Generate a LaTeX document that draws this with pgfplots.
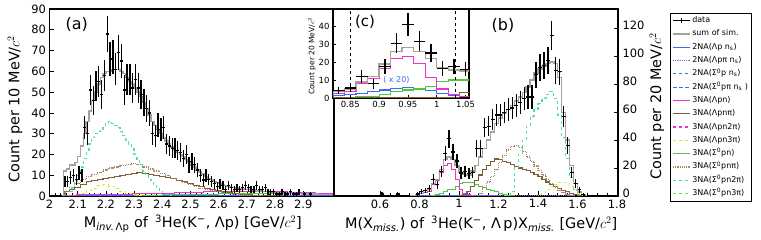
\documentclass[border=0pt]{standalone}
\usepackage{fontspec}
\setmainfont{DejaVu Sans}
\usepackage{pgfplots}
\pgfplotsset{compat=1.18}

\definecolor{sumgray}{HTML}{A8A39A}
\definecolor{nablue}{HTML}{3D6BFF}
\definecolor{napurple}{HTML}{8A66F0}
\definecolor{mag}{HTML}{F531C8}
\definecolor{brn}{HTML}{7E5E34}
\definecolor{tanb}{HTML}{A88A66}
\definecolor{ylw}{HTML}{C8EE30}
\definecolor{grn}{HTML}{50C83C}
\definecolor{aqua}{HTML}{48E2B0}
\definecolor{lgrn}{HTML}{7AE53A}

\pgfplotsset{
  panel/.style={
    scale only axis,
    axis line style={line width=1.4pt},
    tick style={black, line width=0.6pt},
    major tick length=4.5bp, minor tick length=2.5bp,
    tick align=inside,
    ticklabel style={font=\fontsize{11.5}{12}\selectfont},
    /pgf/number format/assume math mode=true,
    label style={font=\fontsize{14.5}{16}\selectfont},
    ymin=0,
  },
  hist/.style={const plot mark mid, no marks, forget plot, line width=1pt},
  dat/.style={only marks, mark=*, mark size=0.7pt, black, forget plot,
    /pgfplots/error bars/y dir=both, /pgfplots/error bars/y explicit,
    /pgfplots/error bars/x dir=both, /pgfplots/error bars/x fixed=#1,
    /pgfplots/error bars/error bar style={line width=1.3pt, black},
    /pgfplots/error bars/error mark=none},
}

\begin{document}
\begin{tikzpicture}
\useasboundingbox (0,0) rectangle (761bp,240bp);

%================ (a) ================
\begin{axis}[panel, at={(49.5bp,44bp)}, anchor=south west,
  width=284.5bp, height=187bp,
  xmin=2, xmax=3.009, ymax=90,
  xtick={2,2.1,2.2,2.3,2.4,2.5,2.6,2.7,2.8,2.9},
  xticklabels={2,2.1,2.2,2.3,2.4,2.5,2.6,2.7,2.8,2.9},
  minor x tick num=4,
  ytick={0,10,20,30,40,50,60,70,80,90},
  xtick pos=left, ytick pos=left,
  xlabel={M\textsubscript{\itshape inv.\,\upshape Λp} of \,\textsuperscript{3}He(K\textsuperscript{−}, Λp) [GeV/$c^2$]},
  ylabel={Count per 10 MeV/$c^2$},
  xlabel style={at={(axis description cs:0.504,-0.15)}, anchor=center},
  ylabel style={at={(axis description cs:-0.121,0.465)}, anchor=center},
]
% blue 2NA near zero
\addplot[hist, nablue, line width=0.8pt] coordinates {(2.05,0) (2.10,0.2) (2.30,0.3) (2.50,0.3) (2.70,0.2) (2.90,0.1) (3.01,0.1)};
% green Sigma0 pn
\addplot[hist, grn] coordinates {(2.25,0) (2.35,0.3) (2.45,0.6) (2.55,0.9) (2.65,1.2) (2.75,1.4) (2.85,1.2) (2.95,1.0) (3.01,0.9)};
% magenta Lambda pn
\addplot[hist, mag] coordinates {(2.05,0) (2.07,0.3) (2.12,0.5) (2.17,0.7) (2.22,0.8) (2.27,0.9) (2.32,1.0) (2.37,1.2) (2.42,1.4) (2.47,1.6) (2.52,1.8) (2.57,2.0) (2.62,2.2) (2.67,2.3) (2.72,2.3) (2.77,2.2) (2.82,2.0) (2.87,1.8) (2.92,1.6) (2.97,1.4) (3.01,1.3)};
% yellow-green Lambda pn 3pi
\addplot[hist, ylw, dashed] coordinates {(2.10,0) (2.12,1) (2.14,2.5) (2.16,3.8) (2.18,5) (2.20,5.5) (2.22,4.8) (2.24,3.5) (2.26,2.2) (2.28,1.3) (2.30,0.7) (2.32,0.3) (2.34,0)};
% brown solid Lambda pn pi
\addplot[hist, brn, line width=1.2pt] coordinates {(2.05,0) (2.06,2) (2.08,3) (2.10,4) (2.12,5.5) (2.14,7) (2.16,7.5) (2.18,8) (2.20,8.5) (2.22,9) (2.24,9.5) (2.26,10) (2.28,10.5) (2.30,11) (2.32,11.2) (2.34,11) (2.36,10.5) (2.38,10) (2.40,9.5) (2.42,9) (2.44,8.3) (2.46,7.5) (2.48,6.8) (2.50,6) (2.52,5.2) (2.54,4.5) (2.56,3.7) (2.58,3) (2.60,2.4) (2.62,1.9) (2.64,1.5) (2.66,1.1) (2.68,0.8) (2.70,0.5) (2.74,0.3) (2.78,0.1) (2.82,0)};
% tan dotted Sigma0 pn pi
\addplot[hist, tanb, densely dotted, line width=1.2pt] coordinates {(2.05,0) (2.06,2) (2.08,4) (2.10,6) (2.12,8) (2.14,9.5) (2.16,10.5) (2.18,11.5) (2.20,12.5) (2.22,13.5) (2.24,14) (2.26,14.5) (2.28,15) (2.30,15.5) (2.32,15) (2.34,14) (2.36,13) (2.38,12) (2.40,11) (2.42,9.8) (2.44,8.5) (2.46,7.5) (2.48,6.5) (2.50,5.5) (2.52,4.5) (2.54,3.8) (2.56,3) (2.58,2.5) (2.60,2) (2.62,1.6) (2.64,1.2) (2.66,0.8) (2.68,0.5) (2.72,0.2) (2.76,0)};
% aqua dashed Sigma0 pn 2pi
\addplot[hist, aqua, dashed, line width=1.2pt] coordinates {(2.065,0) (2.075,2) (2.085,4) (2.095,7) (2.105,10) (2.115,14) (2.125,18) (2.135,22) (2.145,25) (2.155,28) (2.165,30) (2.175,31) (2.185,32) (2.195,33) (2.205,35) (2.215,36) (2.225,35) (2.235,34) (2.245,33) (2.255,31) (2.265,29) (2.275,27) (2.285,25) (2.295,23) (2.305,20) (2.315,17) (2.325,15) (2.335,12) (2.345,10) (2.355,8) (2.365,6.5) (2.375,5) (2.385,3.5) (2.395,2.5) (2.405,1.5) (2.415,0.8) (2.425,0.3) (2.435,0)};
% sum of sim.
\addplot[hist, sumgray, line width=1.4pt] coordinates {(2.045,0) (2.055,12) (2.065,13) (2.075,15) (2.085,15) (2.095,16) (2.105,19) (2.115,24) (2.125,30) (2.135,36) (2.145,41) (2.155,46) (2.165,50) (2.175,54) (2.185,57) (2.195,59) (2.205,60) (2.215,60) (2.225,61) (2.235,61) (2.245,61) (2.255,60) (2.265,59) (2.275,57) (2.285,55) (2.295,54) (2.305,52) (2.315,50) (2.325,48) (2.335,45) (2.345,42) (2.355,39) (2.365,36) (2.375,34) (2.385,32) (2.395,30) (2.405,28) (2.415,26.5) (2.425,25) (2.435,23.5) (2.445,22) (2.455,21) (2.465,20) (2.475,19) (2.485,17.5) (2.495,16) (2.505,15) (2.515,14) (2.525,12.5) (2.535,11.5) (2.545,10.5) (2.555,9.5) (2.565,8.5) (2.575,8) (2.585,7) (2.595,6.5) (2.605,6) (2.615,5.5) (2.625,5) (2.635,4.5) (2.645,4.2) (2.655,4) (2.665,3.8) (2.675,3.5) (2.685,3.3) (2.695,3.1) (2.705,3) (2.725,2.8) (2.745,2.5) (2.765,2.3) (2.785,2) (2.805,1.8) (2.825,1.6) (2.845,1.5) (2.865,1.3) (2.885,1.2) (2.905,1) (2.925,1) (2.945,0.9) (2.965,0.8) (2.985,0.8) (3.005,0.7)};
% data
\addplot[dat=0.005] table[x=x, y=y, y error=e] {
x y e
2.055 7 2.6
2.065 7 2.6
2.075 9 3
2.085 10 3.2
2.095 8 2.8
2.105 11 3.3
2.115 10 3.2
2.125 33 5.7
2.135 30 5.5
2.145 51 7.1
2.155 46 6.8
2.165 53 7.3
2.175 55 7.4
2.185 49 7
2.195 58 7.6
2.205 78 8.8
2.215 66 8.1
2.225 67 8.2
2.235 61 7.8
2.245 69 8.3
2.255 65 8.1
2.265 51 7.1
2.275 56 7.5
2.285 56 7.5
2.295 52 7.2
2.305 56 7.5
2.315 52 7.2
2.325 49 7
2.335 45 6.7
2.345 42 6.5
2.355 40 6.3
2.365 30 5.5
2.375 29 5.4
2.385 34 5.8
2.395 32 5.7
2.405 33 5.7
2.415 25 5
2.425 24 4.9
2.435 23 4.8
2.445 23 4.8
2.455 22 4.7
2.465 21 4.6
2.475 18 4.2
2.485 20 4.5
2.495 15 3.9
2.505 16.5 4.1
2.515 15 3.9
2.525 12.5 3.5
2.535 10 3.2
2.545 7.7 2.8
2.555 10 3.2
2.565 8 2.8
2.575 7 2.6
2.585 6 2.4
2.595 4.5 2.1
2.605 6 2.4
2.615 5 2.2
2.625 3 1.7
2.635 5 2.2
2.645 4 2
2.655 3 1.7
2.665 4 2
2.675 3 1.7
2.685 4 2
2.695 5 2.2
2.705 4 2
2.715 3 1.7
2.725 3 1.7
2.735 5 2.2
2.745 3 1.7
2.755 3 1.7
2.765 4 2
2.775 2 1.4
2.785 2 1.4
2.795 2 1.4
2.805 1 1
2.815 1 1
2.825 2 1.4
2.835 1 1
2.845 1 1
2.855 2 1.4
2.865 1 1
2.875 1 1
2.885 2 1.4
2.905 1 1
2.925 1 1
};
\end{axis}

%================ (b) ================
\begin{axis}[panel, at={(334bp,44bp)}, anchor=south west,
  width=284bp, height=187bp,
  xmin=0.367, xmax=1.805, ymax=134,
  xtick={0.6,0.8,1,1.2,1.4,1.6,1.8},
  xticklabels={0.6,0.8,1,1.2,1.4,1.6,1.8},
  minor x tick num=3,
  ytick={0,20,40,60,80,100,120},
  xtick pos=left, ytick pos=right, yticklabel pos=right,
  yticklabel style={yshift=3bp, xshift=1bp},
  xlabel={M(X\textsubscript{\itshape miss.}) of \,\textsuperscript{3}He(K\textsuperscript{−}, Λ\,p)X\textsubscript{\itshape miss.} [GeV/$c^2$]},
  ylabel={Count per 20 MeV/$c^2$},
  xlabel style={at={(axis description cs:0.518,-0.15)}, anchor=center},
  ylabel style={at={(axis description cs:1.137,0.48)}, anchor=center},
  legend style={at={(1.183,0.979)}, anchor=north west, draw=black,
    font=\fontsize{8}{9}\selectfont, row sep=2.3bp, inner sep=2bp,
    nodes={inner sep=1.5bp, text height=6bp, text depth=2bp}},
  legend cell align=left,
]
\addplot[hist, nablue, line width=0.8pt] coordinates {(0.75,0) (0.79,0.2) (0.85,0.3) (0.95,0.3) (1.05,0.2) (1.15,0.1) (1.25,0)};
\addplot[hist, napurple, densely dotted, line width=1pt] coordinates {(1.1,0) (1.15,0.3) (1.25,0.5) (1.35,0.6) (1.45,0.6) (1.55,0.4) (1.62,0)};
\addplot[hist, grn] coordinates {(0.83,0) (0.85,0) (0.87,0.5) (0.89,1) (0.91,2) (0.93,3.5) (0.95,4.5) (0.97,5) (0.99,6.5) (1.01,9) (1.03,10) (1.05,10) (1.07,9.5) (1.09,8) (1.11,7) (1.13,6) (1.15,5) (1.17,4) (1.19,3) (1.21,2) (1.23,1.3) (1.25,0.7) (1.27,0.3) (1.29,0)};
\addplot[hist, mag] coordinates {(0.75,0) (0.77,0.5) (0.79,1) (0.81,1.5) (0.83,2.5) (0.85,3.5) (0.87,8) (0.89,11) (0.91,16.5) (0.93,22) (0.95,23) (0.97,19) (0.99,11.5) (1.01,5) (1.03,2) (1.05,1) (1.07,0.5) (1.09,0)};
\addplot[hist, ylw, dashed] coordinates {(1.39,0) (1.41,1) (1.43,2.5) (1.45,4.5) (1.47,6.5) (1.49,8.5) (1.51,10) (1.53,10) (1.55,9) (1.57,7) (1.59,4.5) (1.61,2) (1.63,0.5) (1.65,0)};
\addplot[hist, brn, line width=1.2pt] coordinates {(1.01,0) (1.03,1) (1.05,3) (1.07,7) (1.09,11) (1.11,15) (1.13,19) (1.15,22) (1.17,25) (1.19,26.5) (1.21,26) (1.23,25) (1.25,24) (1.27,22.5) (1.29,21) (1.31,20) (1.33,19) (1.35,18.5) (1.37,17) (1.39,15.5) (1.41,14) (1.43,12) (1.45,10) (1.47,8.5) (1.49,7) (1.51,5.5) (1.53,4) (1.55,3) (1.57,2) (1.59,1) (1.61,0.5) (1.63,0)};
\addplot[hist, tanb, densely dotted, line width=1.2pt] coordinates {(1.09,0) (1.11,2) (1.13,6) (1.15,10) (1.17,14) (1.19,19) (1.21,24) (1.23,29) (1.25,33) (1.27,35.5) (1.29,36) (1.31,35) (1.33,32) (1.35,28) (1.37,25) (1.39,21.5) (1.41,18) (1.43,15) (1.45,12) (1.47,9) (1.49,6.5) (1.51,4) (1.53,2.5) (1.55,1.2) (1.57,0.5) (1.59,0)};
\addplot[hist, aqua, dashed, line width=1.2pt] coordinates {(1.23,0) (1.25,0) (1.27,3) (1.29,20) (1.31,30) (1.33,40) (1.35,50) (1.37,57) (1.39,62) (1.41,66) (1.43,70) (1.45,73) (1.47,75) (1.49,70) (1.51,58) (1.53,42) (1.55,27) (1.57,13) (1.59,4) (1.61,1) (1.63,0)};
\addplot[hist, sumgray, line width=1.4pt] coordinates {(0.75,0) (0.77,0.5) (0.79,1) (0.81,2) (0.83,4) (0.85,5) (0.87,9) (0.89,12) (0.91,19) (0.93,26) (0.95,28) (0.97,26) (0.99,22) (1.01,17) (1.03,15.5) (1.05,15) (1.07,18) (1.09,22) (1.11,28) (1.13,34) (1.15,40) (1.17,46) (1.19,52) (1.21,56) (1.23,59) (1.25,62) (1.27,65) (1.29,68) (1.31,71) (1.33,74) (1.35,78) (1.37,83) (1.39,88) (1.41,91) (1.43,93) (1.45,95) (1.47,96) (1.49,95) (1.51,85) (1.53,60) (1.55,40) (1.57,22) (1.59,9) (1.61,3) (1.63,1) (1.65,0)};
\addplot[dat=0.01] table[x=x, y=y, y error=e] {
x y e
0.61 1.5 1.2
0.69 1.5 1.2
0.79 1.5 1.2
0.81 3 1.7
0.83 4 2
0.85 5.5 2.3
0.87 12 3.5
0.89 8 2.8
0.91 17.5 4.2
0.93 30.5 5.5
0.95 41 6.4
0.97 31.5 5.6
0.99 25 5
1.01 16.5 4.1
1.03 17.5 4.2
1.05 16 4
1.07 17 4.1
1.09 34 5.8
1.11 34 5.8
1.13 49 7
1.15 50 7.1
1.17 55 7.4
1.19 58 7.6
1.21 58 7.6
1.23 60 7.7
1.25 62 7.9
1.27 63 7.9
1.29 65 8.1
1.31 67 8.2
1.33 70 8.4
1.35 71 8.4
1.37 71 8.4
1.39 87 9.3
1.41 92 9.6
1.43 93.5 9.7
1.45 97 9.8
1.47 115 10.7
1.49 90 9.5
1.51 89 9.4
1.53 57 7.5
1.55 36 6
1.57 17 4.1
1.59 9 3
1.61 4.5 2.1
1.63 1 1
};
% legend
\addlegendimage{black, line width=1.2pt, mark=|, mark size=2.5pt, mark options={line width=1.2pt}}
\addlegendentry{data}
\addlegendimage{sumgray, line width=1.6pt}
\addlegendentry{sum of sim.}
\addlegendimage{nablue, line width=1.2pt}
\addlegendentry{2NA(Λp n\textsubscript{s})}
\addlegendimage{napurple, densely dotted, line width=1.2pt}
\addlegendentry{2NA(Λpπ n\textsubscript{s})}
\addlegendimage{nablue, dashed, line width=1.2pt}
\addlegendentry{2NA(Σ\textsuperscript{0}p n\textsubscript{s})}
\addlegendimage{nablue, dash pattern=on 4pt off 2pt, line width=1.2pt}
\addlegendentry{2NA(Σ\textsuperscript{0}pπ n\textsubscript{s} )}
\addlegendimage{mag, line width=1.2pt}
\addlegendentry{3NA(Λpn)}
\addlegendimage{brn, line width=1.4pt}
\addlegendentry{3NA(Λpnπ)}
\addlegendimage{mag, dashed, line width=1.2pt}
\addlegendentry{3NA(Λpn2π)}
\addlegendimage{ylw, dashed, line width=1.2pt}
\addlegendentry{3NA(Λpn3π)}
\addlegendimage{grn, line width=1.2pt}
\addlegendentry{3NA(Σ\textsuperscript{0}pn)}
\addlegendimage{tanb, densely dotted, line width=1.2pt}
\addlegendentry{3NA(Σ\textsuperscript{0}pnπ)}
\addlegendimage{aqua, dashed, line width=1.2pt}
\addlegendentry{3NA(Σ\textsuperscript{0}pn2π)}
\addlegendimage{lgrn, dashed, line width=1.2pt}
\addlegendentry{3NA(Σ\textsuperscript{0}pn3π)}
\end{axis}

%================ (c) inset ================
\begin{axis}[panel, at={(333bp,231bp)}, anchor=north west,
  width=136bp, height=89bp,
  xmin=0.82, xmax=1.056, ymax=49.5,
  axis background/.style={fill=white},
  xtick={0.85,0.9,0.95,1,1.05},
  xticklabels={0.85,0.9,0.95,1,1.05},
  ytick={0,10,20,30,40},
  xtick pos=left, ytick pos=left,
  major tick length=3bp,
  ticklabel style={font=\fontsize{8.5}{9}\selectfont},
  ylabel={Count per 20 MeV/$c^2$},
  ylabel style={font=\fontsize{7.5}{8}\selectfont, at={(axis description cs:-0.154,0.47)}, anchor=center},
]
\addplot[hist, nablue, line width=1.2pt] coordinates {(0.81,1) (0.83,1.5) (0.85,2) (0.87,2.5) (0.89,3.5) (0.91,4.5) (0.93,5.5) (0.95,6) (0.97,5) (0.99,4) (1.01,2.5) (1.03,1.5) (1.05,1) (1.07,1)};
\addplot[hist, grn, line width=1.2pt] coordinates {(0.81,0) (0.83,0) (0.85,0) (0.87,0.5) (0.89,1) (0.91,2) (0.93,3.5) (0.95,4.5) (0.97,5) (0.99,6.5) (1.01,9) (1.03,10) (1.05,10) (1.07,10)};
\addplot[hist, brn, line width=1.2pt] coordinates {(0.81,0) (1.01,0) (1.03,0.3) (1.05,3) (1.07,3)};
\addplot[hist, mag, line width=1.2pt] coordinates {(0.81,1.5) (0.83,2.5) (0.85,3.5) (0.87,8) (0.89,11) (0.91,16.5) (0.93,22) (0.95,23) (0.97,19) (0.99,11.5) (1.01,5) (1.03,2) (1.05,1) (1.07,0.5)};
\addplot[hist, sumgray, line width=1.4pt] coordinates {(0.81,2) (0.83,4) (0.85,5) (0.87,9) (0.89,12) (0.91,19) (0.93,26) (0.95,28) (0.97,26) (0.99,22) (1.01,17) (1.03,15.5) (1.05,15) (1.07,15)};
\addplot[forget plot, black, dashed, line width=0.9pt] coordinates {(0.85,0) (0.85,49.5)};
\addplot[forget plot, black, dashed, line width=0.9pt] coordinates {(1.033,0) (1.033,49.5)};
\addplot[dat=0.01, mark size=0.5pt] table[x=x, y=y, y error=e] {
x y e
0.83 4 2
0.85 5.5 2.3
0.87 12 3.5
0.89 8 2.8
0.91 17.5 4.2
0.93 30.5 5.5
0.95 41 6.4
0.97 31.5 5.6
0.99 25 5
1.01 16.5 4.1
1.03 17.5 4.2
1.05 16 4
};
\node[nablue, font=\fontsize{8}{8}\selectfont] at (axis cs:0.93,9.8) {( x 20)};
\end{axis}

\node[font=\fontsize{16}{16}\selectfont] at (76.7bp,215bp) {(a)};
\node[font=\fontsize{16}{16}\selectfont] at (503bp,215bp) {(b)};
\node[font=\fontsize{15}{15}\selectfont] at (365bp,218bp) {(c)};
\end{tikzpicture}
\end{document}
